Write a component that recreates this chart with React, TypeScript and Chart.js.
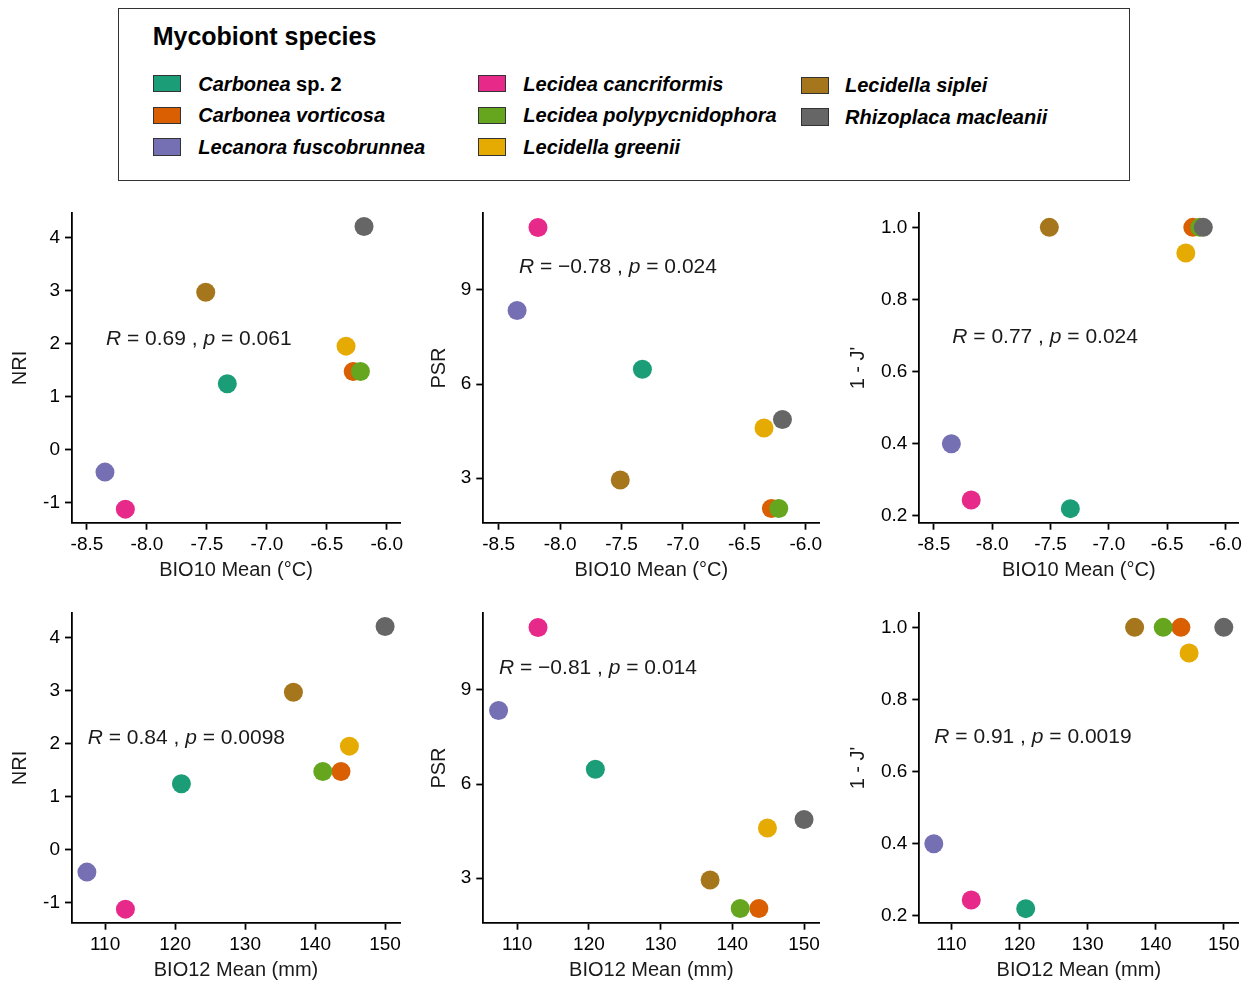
import React, { useEffect, useRef } from 'react';
import { Chart, registerables } from 'chart.js';

Chart.register(...registerables);

// ---------------- data ----------------
const species = [
  'Carbonea sp. 2',
  'Carbonea vorticosa',
  'Lecanora fuscobrunnea',
  'Lecidea cancriformis',
  'Lecidea polypycnidophora',
  'Lecidella greenii',
  'Lecidella siplei',
  'Rhizoplaca macleanii',
];
const speciesColors = ['#1B9E77', '#D95F02', '#7570B3', '#E7298A', '#66A61E', '#E6AB02', '#A6761D', '#666666'];

const bio10Mean = [-7.33, -6.28, -8.35, -8.18, -6.22, -6.34, -7.51, -6.19];
const bio12Mean = [120.9, 143.7, 107.4, 112.9, 141.1, 144.9, 136.9, 150.0];
const nriValues = [1.24, 1.47, -0.43, -1.13, 1.47, 1.95, 2.97, 4.21];
const psrValues = [6.47, 2.03, 8.34, 10.99, 2.03, 4.6, 2.94, 4.87];
const evennessValues = [0.22, 1.0, 0.4, 0.244, 1.0, 0.929, 1.0, 1.0];

const bio10Ticks = [-8.5, -8.0, -7.5, -7.0, -6.5, -6.0];
const bio12Ticks = [110, 120, 130, 140, 150];
const nriTicks = [-1, 0, 1, 2, 3, 4];
const psrTicks = [3, 6, 9];
const evennessTicks = [0.2, 0.4, 0.6, 0.8, 1.0];

const bio10Range = [-8.625, -5.89];
const bio12Range = [105.27, 152.13];
const nriRange = [-1.386, 4.46];
const psrRange = [1.58, 11.44];
const evennessRange = [0.181, 1.039];

const corR = ['0.69', '\u22120.78', '0.77', '0.84', '\u22120.81', '0.91'];
const corP = ['0.061', '0.024', '0.024', '0.0098', '0.014', '0.0019'];

// ---------------- layout ----------------
const FONT = "'Liberation Sans', Arial, Helvetica, sans-serif";
const TICK_SIZE = 19;
const TITLE_SIZE = 20;

const columns = [
  { cx: 0, cw: 416, ax0: 72, ax1: 400, yTitleX: 20.3 },
  { cx: 416, cw: 416, ax0: 483.3, ax1: 819.3, yTitleX: 439.3 },
  { cx: 832, cw: 417, ax0: 919.3, ax1: 1238.3, yTitleX: 858.3 },
];
const rows = [
  { cy: 195, ch: 400, ay0: 213.3, ay1: 522.7, xTitleY: 570.7 },
  { cy: 595, ch: 389, ay0: 613.3, ay1: 922.7, xTitleY: 970.7 },
];
const annotPos = [
  [106, 337.8],
  [519, 265.7],
  [952.3, 335],
  [87.7, 736.7],
  [499, 666.7],
  [934.3, 735],
];

type PanelSpec = {
  xVals: number[];
  yVals: number[];
  xRange: number[];
  yRange: number[];
  xTicks: number[];
  yTicks: number[];
  xTitle: string;
  yTitle: string;
  xDec: number;
  yDec: number;
};

const xSets = [
  { vals: bio10Mean, range: bio10Range, ticks: bio10Ticks, title: 'BIO10 Mean (\u00B0C)', dec: 1 },
  { vals: bio12Mean, range: bio12Range, ticks: bio12Ticks, title: 'BIO12 Mean (mm)', dec: 0 },
];
const ySets = [
  { vals: nriValues, range: nriRange, ticks: nriTicks, title: 'NRI', dec: 0 },
  { vals: psrValues, range: psrRange, ticks: psrTicks, title: 'PSR', dec: 0 },
  { vals: evennessValues, range: evennessRange, ticks: evennessTicks, title: "1 - J'", dec: 1 },
];

function Panel({ spec, col, row }: { spec: PanelSpec; col: any; row: any }) {
  const ref = useRef<HTMLCanvasElement | null>(null);
  useEffect(() => {
    if (!ref.current) return;
    const padTop = row.ay0 - row.cy;
    const padRight = col.cx + col.cw - col.ax1;
    const yWidth = col.ax0 - col.cx;
    const xHeight = row.cy + row.ch - row.ay1;
    const titleLH = TITLE_SIZE * 1.2;
    const yTitlePad = col.yTitleX - col.cx - titleLH / 2;
    const xTitlePad = row.cy + row.ch - row.xTitleY - titleLH / 2;
    const tickFont = { family: FONT, size: TICK_SIZE };
    const titleFont = { family: FONT, size: TITLE_SIZE };
    const gridOpts = {
      drawOnChartArea: false,
      drawTicks: true,
      tickLength: 7,
      tickColor: '#000',
      tickWidth: 1.8,
      color: '#000',
    };
    const chart = new Chart(ref.current, {
      type: 'scatter',
      data: {
        datasets: [
          {
            data: spec.xVals.map((x, i) => ({ x, y: spec.yVals[i] })),
            backgroundColor: speciesColors,
            borderWidth: 0,
            pointRadius: 9.5,
            pointHoverRadius: 9.5,
            pointBorderWidth: 0,
          },
        ],
      },
      options: {
        animation: false,
        responsive: false,
        maintainAspectRatio: false,
        events: [],
        layout: { padding: { top: padTop, right: padRight, left: 0, bottom: 0 } },
        plugins: { legend: { display: false }, tooltip: { enabled: false } },
        scales: {
          x: {
            type: 'linear',
            position: 'bottom',
            min: spec.xRange[0],
            max: spec.xRange[1],
            afterBuildTicks: (s: any) => {
              s.ticks = spec.xTicks.map((v) => ({ value: v }));
            },
            afterFit: (s: any) => {
              s.height = xHeight;
            },
            ticks: {
              callback: (v: any) => Number(v).toFixed(spec.xDec),
              color: '#000',
              font: tickFont,
              padding: 4,
              maxRotation: 0,
              autoSkip: false,
            },
            grid: gridOpts,
            border: { display: true, color: '#000', width: 1.8 },
            title: {
              display: true,
              text: spec.xTitle,
              color: '#1a1a1a',
              font: titleFont,
              padding: { top: 0, bottom: xTitlePad },
            },
          },
          y: {
            type: 'linear',
            position: 'left',
            min: spec.yRange[0],
            max: spec.yRange[1],
            afterBuildTicks: (s: any) => {
              s.ticks = spec.yTicks.map((v) => ({ value: v }));
            },
            afterFit: (s: any) => {
              s.width = yWidth;
            },
            ticks: {
              callback: (v: any) => Number(v).toFixed(spec.yDec),
              color: '#000',
              font: tickFont,
              padding: 5,
              autoSkip: false,
            },
            grid: gridOpts,
            border: { display: true, color: '#000', width: 1.8 },
            title: {
              display: true,
              text: spec.yTitle,
              color: '#1a1a1a',
              font: titleFont,
              padding: { top: yTitlePad, bottom: 0 },
            },
          },
        },
      } as any,
    });
    return () => chart.destroy();
  }, []);
  return (
    <canvas
      ref={ref}
      width={col.cw}
      height={row.ch}
      style={{ position: 'absolute', left: col.cx, top: row.cy, width: col.cw, height: row.ch }}
    />
  );
}

function LegendLabel({ name }: { name: string }) {
  const idx = name.indexOf(' sp.');
  if (idx >= 0) {
    return (
      <span>
        <span style={{ fontStyle: 'italic' }}>{name.slice(0, idx)}</span>
        <span style={{ fontStyle: 'normal' }}>{name.slice(idx)}</span>
      </span>
    );
  }
  return <span style={{ fontStyle: 'italic' }}>{name}</span>;
}

const legendSwatchX = [153.3, 478.3, 801];
const legendTextX = [198.3, 523.3, 845];
const legendRowY = [83.6, 115.3, 147.2];
const legendColShift = [0, 0, 1.7];

export default function App() {
  const panels: { spec: PanelSpec; col: any; row: any; k: number }[] = [];
  xSets.forEach((xs, r) => {
    ySets.forEach((ys, c) => {
      panels.push({
        k: r * 3 + c,
        col: columns[c],
        row: rows[r],
        spec: {
          xVals: xs.vals,
          yVals: ys.vals,
          xRange: xs.range,
          yRange: ys.range,
          xTicks: xs.ticks,
          yTicks: ys.ticks,
          xTitle: xs.title,
          yTitle: ys.title,
          xDec: xs.dec,
          yDec: ys.dec,
        },
      });
    });
  });

  const ANN = 21;
  return (
    <div
      style={{
        position: 'absolute',
        left: 0,
        top: 0,
        width: 1249,
        height: 984,
        overflow: 'hidden',
        background: '#fff',
        fontFamily: FONT,
        color: '#000',
      }}
    >
      {/* legend box */}
      <div
        style={{
          position: 'absolute',
          left: 117.8,
          top: 7.8,
          width: 1012.6,
          height: 173.1,
          border: '1.8px solid #333',
          boxSizing: 'border-box',
        }}
      />
      <div
        style={{
          position: 'absolute',
          left: 152.7,
          top: 36.7 - 12.5,
          fontSize: 25,
          lineHeight: '25px',
          fontWeight: 'bold',
          whiteSpace: 'nowrap',
        }}
      >
        Mycobiont species
      </div>
      {species.map((name, i) => {
        const c = Math.floor(i / 3);
        const r = i % 3;
        const cy = legendRowY[r] + legendColShift[c];
        return (
          <React.Fragment key={name}>
            <div
              style={{
                position: 'absolute',
                left: legendSwatchX[c],
                top: cy - 8.75,
                width: 28,
                height: 17.5,
                background: speciesColors[i],
                border: '1.2px solid #333',
                boxSizing: 'border-box',
              }}
            />
            <div
              style={{
                position: 'absolute',
                left: legendTextX[c],
                top: cy - 10,
                fontSize: 20,
                lineHeight: '20px',
                fontWeight: 'bold',
                whiteSpace: 'nowrap',
              }}
            >
              <LegendLabel name={name} />
            </div>
          </React.Fragment>
        );
      })}

      {panels.map((p) => (
        <Panel key={p.k} spec={p.spec} col={p.col} row={p.row} />
      ))}

      {annotPos.map((pos, i) => (
        <div
          key={'ann' + i}
          style={{
            position: 'absolute',
            left: pos[0],
            top: pos[1] - ANN / 2,
            fontSize: ANN,
            lineHeight: ANN + 'px',
            whiteSpace: 'pre',
            color: '#1a1a1a',
          }}
        >
          <i>R</i>
          {' = ' + corR[i] + ' , '}
          <i>p</i>
          {' = ' + corP[i]}
        </div>
      ))}
    </div>
  );
}
